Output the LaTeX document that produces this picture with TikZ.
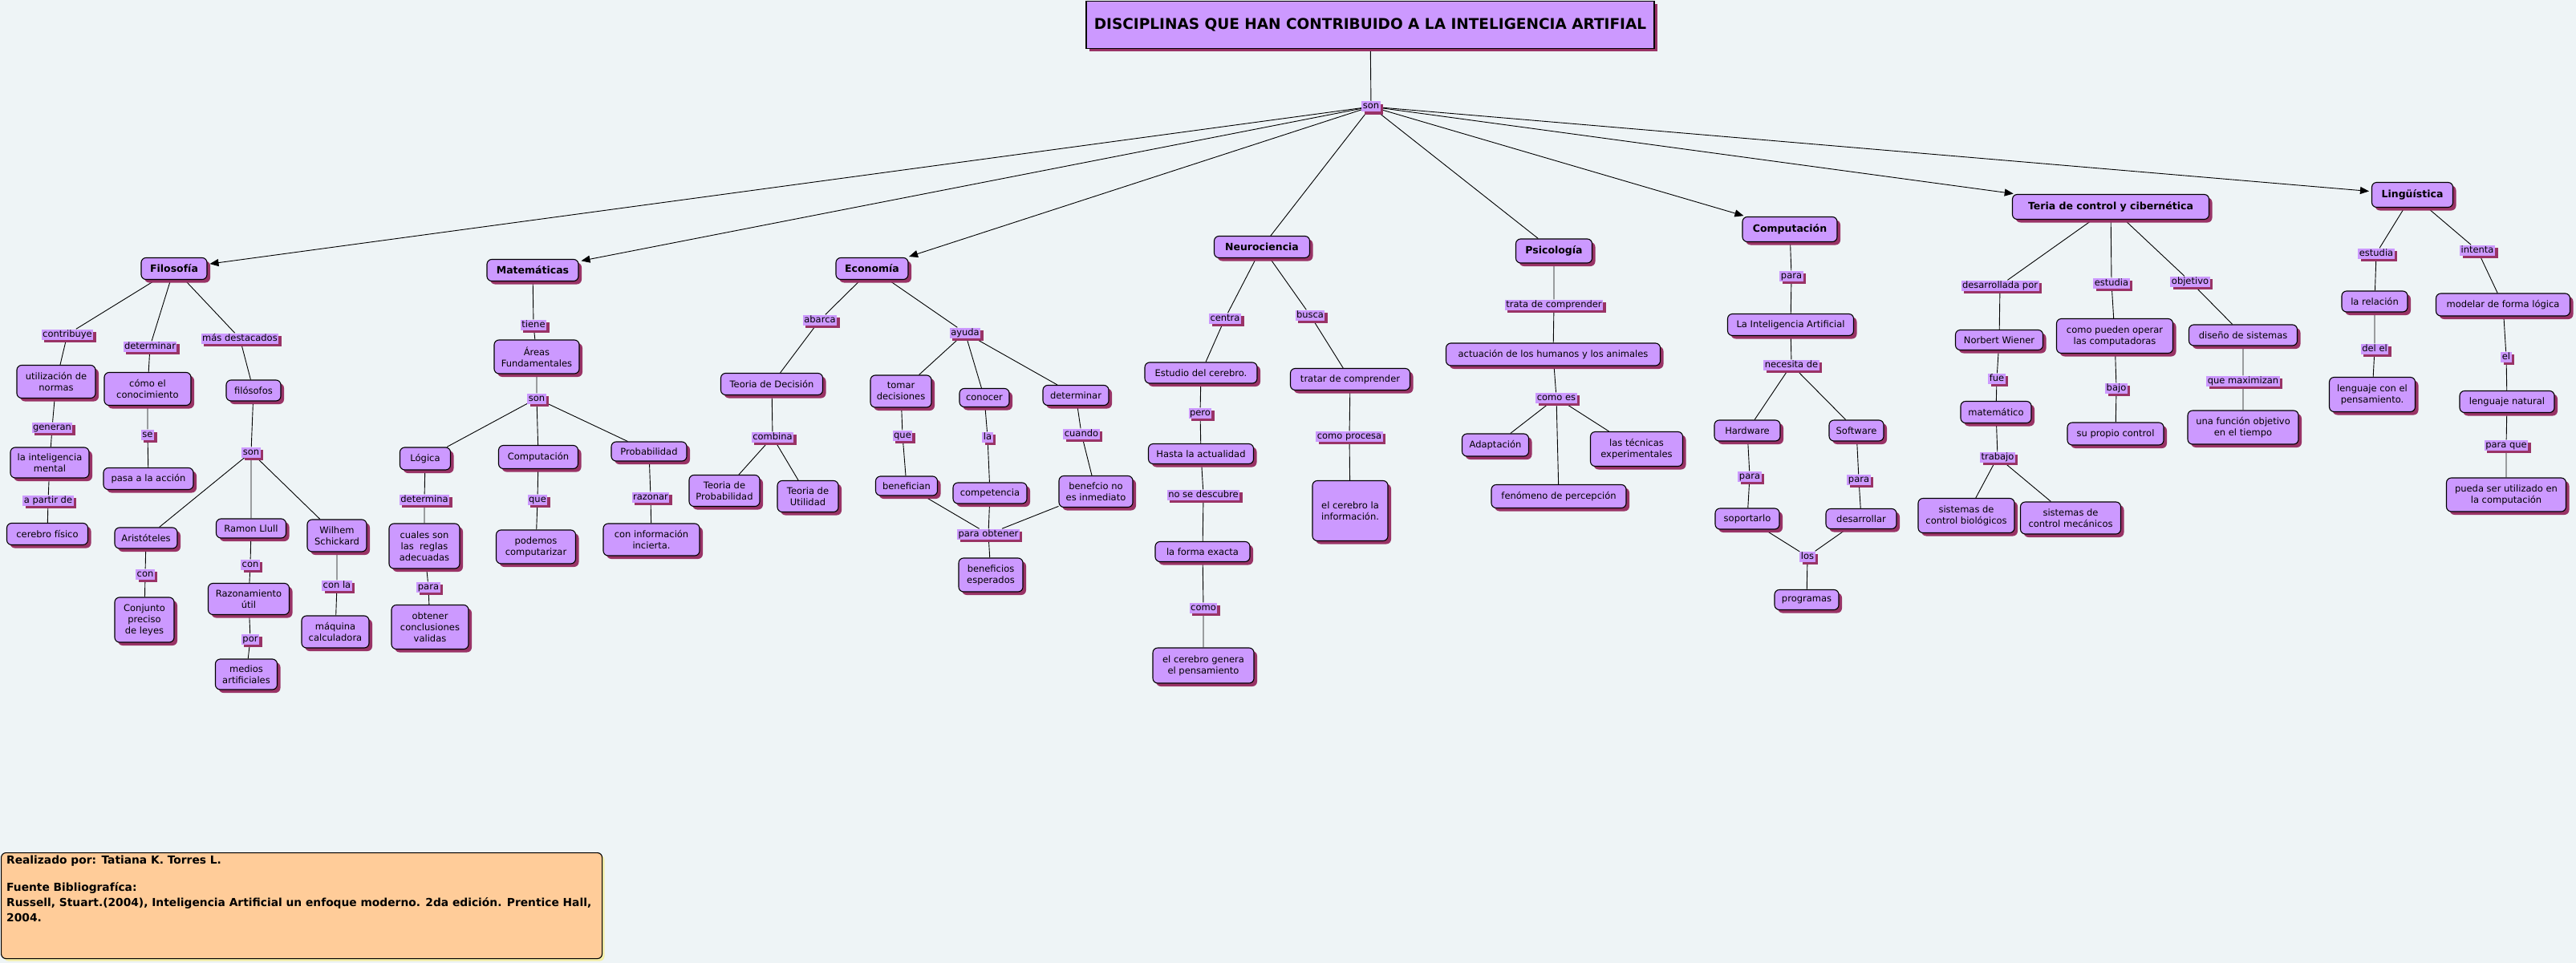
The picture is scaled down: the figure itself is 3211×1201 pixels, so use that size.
\documentclass[tikz,border=0pt]{standalone}
\usepackage{fontspec}
\setmainfont{DejaVu Sans}
\usetikzlibrary{shadows,arrows.meta}
\definecolor{bgc}{HTML}{EEF4F6}
\definecolor{boxc}{HTML}{CC99FF}
\definecolor{shc}{HTML}{993366}
\definecolor{lblc}{HTML}{CC99FF}
\definecolor{notec}{HTML}{FFCC99}
\definecolor{noteshc}{HTML}{F4EFA8}
\pgfdeclarelayer{bglayer}
\pgfdeclarelayer{edgelayer}
\pgfsetlayers{bglayer,edgelayer,main}
\tikzset{
  cbox/.style={draw=black, line width=1.1pt, fill=boxc, rounded corners=6pt, align=center, inner sep=2pt,
    font=\fontsize{11.5}{14}\selectfont,
    drop shadow={shadow xshift=4pt,shadow yshift=-4pt,opacity=1,fill=shc}},
  hbox/.style={cbox, font=\fontsize{12.5}{15}\selectfont\bfseries},
  lbl/.style={fill=lblc, inner xsep=1.5pt, inner ysep=1pt, text height=8.5pt, text depth=2.5pt,
    font=\fontsize{11.5}{14}\selectfont,
    drop shadow={shadow xshift=3.5pt,shadow yshift=-3.5pt,opacity=1,fill=shc}},
  conn/.style={draw=black, line width=0.9pt},
  arr/.style={conn, -{Triangle[length=11pt,width=9pt]}, shorten >=3pt},
}
\begin{document}
\begin{tikzpicture}[x=1pt,y=-1pt]
\useasboundingbox (0,0) rectangle (3211,1201);
\begin{pgfonlayer}{bglayer}
\fill[bgc] (0,0) rectangle (3211,1201);
\end{pgfonlayer}

% title
\node[draw=black, line width=1.3pt, fill=boxc, minimum width=708pt, minimum height=59pt,
  font=\fontsize{18.5}{22}\selectfont\bfseries,
  drop shadow={shadow xshift=4pt,shadow yshift=-4pt,opacity=1,fill=shc}] (title) at (1708,31)
  {DISCIPLINAS QUE HAN CONTRIBUIDO A LA INTELIGENCIA ARTIFIAL};
\node[lbl] (son0) at (1709,133) {son};

% ---------------- Filosofia
\node[hbox, minimum width=82pt, minimum height=27pt] (filo) at (217,335) {Filosofía};
\node[lbl] (lcontrib) at (84,417) {contribuye};
\node[lbl] (ldeterm) at (187,432) {determinar};
\node[lbl] (lmasdest) at (299,422) {más destacados};
\node[cbox, minimum width=98pt, minimum height=41pt] (utiliz) at (70,476) {utilización de\\normas};
\node[cbox, minimum width=108pt, minimum height=41pt] (comoel) at (184,485) {cómo el\\conocimiento};
\node[cbox, minimum width=68pt, minimum height=26pt] (filosofos) at (316,487) {filósofos};
\node[lbl] (lgeneran) at (65,533) {generan};
\node[lbl] (lse) at (184,542) {se};
\node[lbl] (lsonf) at (313,564) {son};
\node[cbox, minimum width=98pt, minimum height=38pt] (intmental) at (62,577) {la inteligencia\\mental};
\node[cbox, minimum width=112pt, minimum height=27pt] (pasa) at (185,597) {pasa a la acción};
\node[lbl] (lapartir) at (60,624) {a partir de};
\node[cbox, minimum width=101pt, minimum height=27pt] (cerebrof) at (59,666) {cerebro físico};
\node[cbox, minimum width=78pt, minimum height=26pt] (arist) at (182,671) {Aristóteles};
\node[cbox, minimum width=87pt, minimum height=24pt] (ramon) at (313,659) {Ramon Llull};
\node[cbox, minimum width=74pt, minimum height=40pt] (wilhem) at (420,668) {Wilhem\\Schickard};
\node[lbl] (lcona) at (181,716) {con};
\node[lbl] (lconr) at (312,704) {con};
\node[lbl] (lconla) at (420,730) {con la};
\node[cbox, minimum width=74pt, minimum height=56pt] (conjunto) at (180,773) {Conjunto\\preciso\\de leyes};
\node[cbox, minimum width=101pt, minimum height=39pt] (razon) at (310,747) {Razonamiento\\útil};
\node[cbox, minimum width=84pt, minimum height=40pt] (maquina) at (418,788) {máquina\\calculadora};
\node[lbl] (lpor) at (312,797) {por};
\node[cbox, minimum width=77pt, minimum height=38pt] (medios) at (307,841) {medios\\artificiales};

% ---------------- Matematicas
\node[hbox, minimum width=114pt, minimum height=27pt] (mate) at (664,337) {Matemáticas};
\node[lbl] (ltiene) at (665,405) {tiene};
\node[cbox, minimum width=106pt, minimum height=42pt] (areas) at (669,445) {Áreas\\Fundamentales};
\node[lbl] (lsonm) at (669,497) {son};
\node[cbox, minimum width=63pt, minimum height=28pt] (logica) at (530,572) {Lógica};
\node[cbox, minimum width=99pt, minimum height=29pt] (compm) at (671,570) {Computación};
\node[cbox, minimum width=94pt, minimum height=24pt] (prob) at (809,563) {Probabilidad};
\node[lbl] (ldetermina) at (529,623) {determina};
\node[lbl] (lquem) at (670,623) {que};
\node[lbl] (lrazonar) at (811,620) {razonar};
\node[cbox, minimum width=88pt, minimum height=56pt] (cuales) at (529,681) {cuales son\\las~~reglas\\adecuadas};
\node[cbox, minimum width=99pt, minimum height=42pt] (podemos) at (668,682) {podemos\\computarizar};
\node[cbox, minimum width=120pt, minimum height=40pt] (coninfo) at (812,673) {con información\\incierta.};
\node[lbl] (lparam) at (534,732) {para};
\node[cbox, minimum width=96pt, minimum height=55pt] (obtener) at (536,782) {obtener\\conclusiones\\validas};

% ---------------- Economia
\node[hbox, minimum width=90pt, minimum height=27pt] (econ) at (1087,335) {Economía};
\node[lbl] (labarca) at (1022,399) {abarca};
\node[lbl] (layuda) at (1203,415) {ayuda};
\node[cbox, minimum width=127pt, minimum height=27pt] (tdec) at (962,479) {Teoria de Decisión};
\node[cbox, minimum width=76pt, minimum height=40pt] (tomar) at (1123,488) {tomar\\decisiones};
\node[cbox, minimum width=62pt, minimum height=23pt] (conocer) at (1227,496) {conocer};
\node[cbox, minimum width=82pt, minimum height=25pt] (determ) at (1341,493) {determinar};
\node[lbl] (lcombina) at (963,545) {combina};
\node[lbl] (lquee) at (1125,543) {que};
\node[lbl] (lla) at (1231,545) {la};
\node[lbl] (lcuando) at (1348,541) {cuando};
\node[cbox, minimum width=88pt, minimum height=39pt] (tprob) at (903,612) {Teoria de\\Probabilidad};
\node[cbox, minimum width=76pt, minimum height=39pt] (tutil) at (1007,619) {Teoria de\\Utilidad};
\node[cbox, minimum width=77pt, minimum height=24pt] (benefician) at (1130,606) {benefician};
\node[cbox, minimum width=92pt, minimum height=26pt] (compet) at (1234,615) {competencia};
\node[cbox, minimum width=92pt, minimum height=39pt] (benefcio) at (1366,613) {benefcio no\\es inmediato};
\node[lbl] (lparaobt) at (1232,666) {para obtener};
\node[cbox, minimum width=80pt, minimum height=42pt] (benesp) at (1235,717) {beneficios\\esperados};

% ---------------- Neurociencia
\node[hbox, minimum width=119pt, minimum height=27pt] (neuro) at (1573,308) {Neurociencia};
\node[lbl] (lcentra) at (1527,397) {centra};
\node[lbl] (lbusca) at (1633,393) {busca};
\node[cbox, minimum width=140pt, minimum height=26pt] (estudio) at (1497,465) {Estudio del cerebro.};
\node[cbox, minimum width=149pt, minimum height=27pt] (tratar) at (1683,473) {tratar de comprender};
\node[lbl] (lpero) at (1496,515) {pero};
\node[cbox, minimum width=131pt, minimum height=25pt] (hasta) at (1497,566) {Hasta la actualidad};
\node[lbl] (lprocesa) at (1682,544) {como procesa};
\node[lbl] (lnosedesc) at (1500,617) {no se descubre};
\node[cbox, minimum width=94pt, minimum height=75pt] (cerebroinf) at (1683,637) {el cerebro la\\información.};
\node[cbox, minimum width=118pt, minimum height=25pt] (forma) at (1499,688) {la forma exacta};
\node[lbl] (lcomo) at (1500,758) {como};
\node[cbox, minimum width=126pt, minimum height=44pt] (genera) at (1500,830) {el cerebro genera\\el pensamiento};

% ---------------- Psicologia
\node[hbox, minimum width=95pt, minimum height=30pt] (psico) at (1937,313) {Psicología};
\node[lbl] (ltrata) at (1937,380) {trata de comprender};
\node[cbox, minimum width=267pt, minimum height=28pt] (actuacion) at (1936,442) {actuación de los humanos y los animales};
\node[lbl] (lcomoes) at (1940,496) {como es};
\node[cbox, minimum width=83pt, minimum height=28pt] (adapt) at (1864,555) {Adaptación};
\node[cbox, minimum width=115pt, minimum height=43pt] (tecnicas) at (2040,560) {las técnicas\\experimentales};
\node[cbox, minimum width=168pt, minimum height=29pt] (fenomeno) at (1943,619) {fenómeno de percepción};

% ---------------- Computacion
\node[hbox, minimum width=118pt, minimum height=31pt] (comp) at (2231,286) {Computación};
\node[lbl] (lparac) at (2233,344) {para};
\node[cbox, minimum width=157pt, minimum height=27pt] (laia) at (2232,405) {La Inteligencia Artificial};
\node[lbl] (lnecesita) at (2233,455) {necesita de};
\node[cbox, minimum width=82pt, minimum height=26pt] (hard) at (2178,537) {Hardware};
\node[cbox, minimum width=68pt, minimum height=26pt] (soft) at (2314,537) {Software};
\node[lbl] (lparah) at (2181,594) {para};
\node[lbl] (lparas) at (2317,598) {para};
\node[cbox, minimum width=80pt, minimum height=26pt] (soport) at (2178,647) {soportarlo};
\node[cbox, minimum width=88pt, minimum height=25pt] (desarr) at (2320,647) {desarrollar};
\node[lbl] (llos) at (2253,694) {los};
\node[cbox, minimum width=80pt, minimum height=25pt] (programas) at (2252,748) {programas};

% ---------------- Control
\node[hbox, minimum width=245pt, minimum height=31pt] (control) at (2631,258) {Teria de control y cibernética};
\node[lbl] (ldesarrp) at (2493,356) {desarrollada por};
\node[lbl] (lestudiac) at (2632,353) {estudia};
\node[lbl] (lobjetivo) at (2730,351) {objetivo};
\node[cbox, minimum width=109pt, minimum height=25pt] (norbert) at (2492,424) {Norbert Wiener};
\node[cbox, minimum width=145pt, minimum height=43pt] (comopueden) at (2636,419) {como pueden operar\\las computadoras};
\node[cbox, minimum width=135pt, minimum height=26pt] (diseno) at (2796,418) {diseño de sistemas};
\node[lbl] (lfue) at (2489,472) {fue};
\node[lbl] (lbajo) at (2638,484) {bajo};
\node[lbl] (lmaxim) at (2796,475) {que maximizan};
\node[cbox, minimum width=88pt, minimum height=27pt] (matematico) at (2488,514) {matemático};
\node[cbox, minimum width=120pt, minimum height=28pt] (propio) at (2637,541) {su propio control};
\node[cbox, minimum width=138pt, minimum height=42pt] (funcion) at (2796,533) {una función objetivo\\en el tiempo};
\node[lbl] (ltrabajo) at (2490,570) {trabajo};
\node[cbox, minimum width=120pt, minimum height=43pt] (sisbio) at (2451,643) {sistemas de\\control biológicos};
\node[cbox, minimum width=125pt, minimum height=40pt] (sismec) at (2581,646) {sistemas de\\control mecánicos};

% ---------------- Linguistica
\node[hbox, minimum width=101pt, minimum height=31pt] (ling) at (3007,243) {Lingüística};
\node[lbl] (lestudial) at (2962,316) {estudia};
\node[lbl] (lintenta) at (3088,312) {intenta};
\node[cbox, minimum width=82pt, minimum height=26pt] (relacion) at (2960,376) {la relación};
\node[cbox, minimum width=167pt, minimum height=28pt] (modelar) at (3120,380) {modelar de forma lógica};
\node[lbl] (ldelel) at (2960,435) {del el};
\node[lbl] (lel) at (3124,445) {el};
\node[cbox, minimum width=107pt, minimum height=43pt] (lengpens) at (2957,492) {lenguaje con el\\pensamiento.};
\node[cbox, minimum width=118pt, minimum height=27pt] (lengnat) at (3125,501) {lenguaje natural};
\node[lbl] (lparaque) at (3124,555) {para que};
\node[cbox, minimum width=149pt, minimum height=42pt] (pueda) at (3124,617) {pueda ser utilizado en\\la computación};

% ---------------- note
\node[draw=black, line width=1.1pt, fill=notec, rounded corners=6pt, anchor=north west,
  minimum width=749pt, minimum height=132pt,
  drop shadow={shadow xshift=3pt,shadow yshift=-3pt,opacity=1,fill=noteshc}] (nota) at (1,1063) {};
\node[anchor=north west, align=left, inner sep=0pt, font=\fontsize{13.8}{19}\selectfont\bfseries] (notatexto) at (8,1067)
  {Realizado por: Tatiana K. Torres L.\\[15pt]
   Fuente Bibliografíca:\\
   Russell, Stuart.(2004), Inteligencia Artificial un enfoque moderno. 2da edición. Prentice Hall,\\
   2004.};

% ---------------- connectors
\begin{pgfonlayer}{edgelayer}
\draw[conn] (title) -- (son0);
\draw[arr] (son0) -- (filo);
\draw[arr] (son0) -- (mate);
\draw[arr] (son0) -- (econ);
\draw[conn] (son0) -- (neuro);
\draw[conn] (son0) -- (psico);
\draw[arr] (son0) -- (comp);
\draw[arr] (son0) -- (control);
\draw[arr] (son0) -- (ling);

\draw[conn] (filo) -- (lcontrib) -- (utiliz) -- (lgeneran) -- (intmental) -- (lapartir) -- (cerebrof);
\draw[conn] (filo) -- (ldeterm) -- (comoel) -- (lse) -- (pasa);
\draw[conn] (filo) -- (lmasdest) -- (filosofos) -- (lsonf);
\draw[conn] (lsonf) -- (arist) -- (lcona) -- (conjunto);
\draw[conn] (lsonf) -- (ramon) -- (lconr) -- (razon) -- (lpor) -- (medios);
\draw[conn] (lsonf) -- (wilhem) -- (lconla) -- (maquina);

\draw[conn] (mate) -- (ltiene) -- (areas) -- (lsonm);
\draw[conn] (lsonm) -- (logica) -- (ldetermina) -- (cuales) -- (lparam) -- (obtener);
\draw[conn] (lsonm) -- (compm) -- (lquem) -- (podemos);
\draw[conn] (lsonm) -- (prob) -- (lrazonar) -- (coninfo);

\draw[conn] (econ) -- (labarca) -- (tdec) -- (lcombina);
\draw[conn] (lcombina) -- (tprob);
\draw[conn] (lcombina) -- (tutil);
\draw[conn] (econ) -- (layuda);
\draw[conn] (layuda) -- (tomar) -- (lquee) -- (benefician) -- (lparaobt);
\draw[conn] (layuda) -- (conocer) -- (lla) -- (compet) -- (lparaobt);
\draw[conn] (layuda) -- (determ) -- (lcuando) -- (benefcio) -- (lparaobt);
\draw[conn] (lparaobt) -- (benesp);

\draw[conn] (neuro) -- (lcentra) -- (estudio) -- (lpero) -- (hasta) -- (lnosedesc) -- (forma) -- (lcomo) -- (genera);
\draw[conn] (neuro) -- (lbusca) -- (tratar) -- (lprocesa) -- (cerebroinf);

\draw[conn] (psico) -- (ltrata) -- (actuacion) -- (lcomoes);
\draw[conn] (lcomoes) -- (adapt);
\draw[conn] (lcomoes) -- (fenomeno);
\draw[conn] (lcomoes) -- (tecnicas);

\draw[conn] (comp) -- (lparac) -- (laia) -- (lnecesita);
\draw[conn] (lnecesita) -- (hard) -- (lparah) -- (soport) -- (llos);
\draw[conn] (lnecesita) -- (soft) -- (lparas) -- (desarr) -- (llos);
\draw[conn] (llos) -- (programas);

\draw[conn] (control) -- (ldesarrp) -- (norbert) -- (lfue) -- (matematico) -- (ltrabajo);
\draw[conn] (ltrabajo) -- (sisbio);
\draw[conn] (ltrabajo) -- (sismec);
\draw[conn] (control) -- (lestudiac) -- (comopueden) -- (lbajo) -- (propio);
\draw[conn] (control) -- (lobjetivo) -- (diseno) -- (lmaxim) -- (funcion);

\draw[conn] (ling) -- (lestudial) -- (relacion) -- (ldelel) -- (lengpens);
\draw[conn] (ling) -- (lintenta) -- (modelar) -- (lel) -- (lengnat) -- (lparaque) -- (pueda);
\end{pgfonlayer}
\end{tikzpicture}
\end{document}
